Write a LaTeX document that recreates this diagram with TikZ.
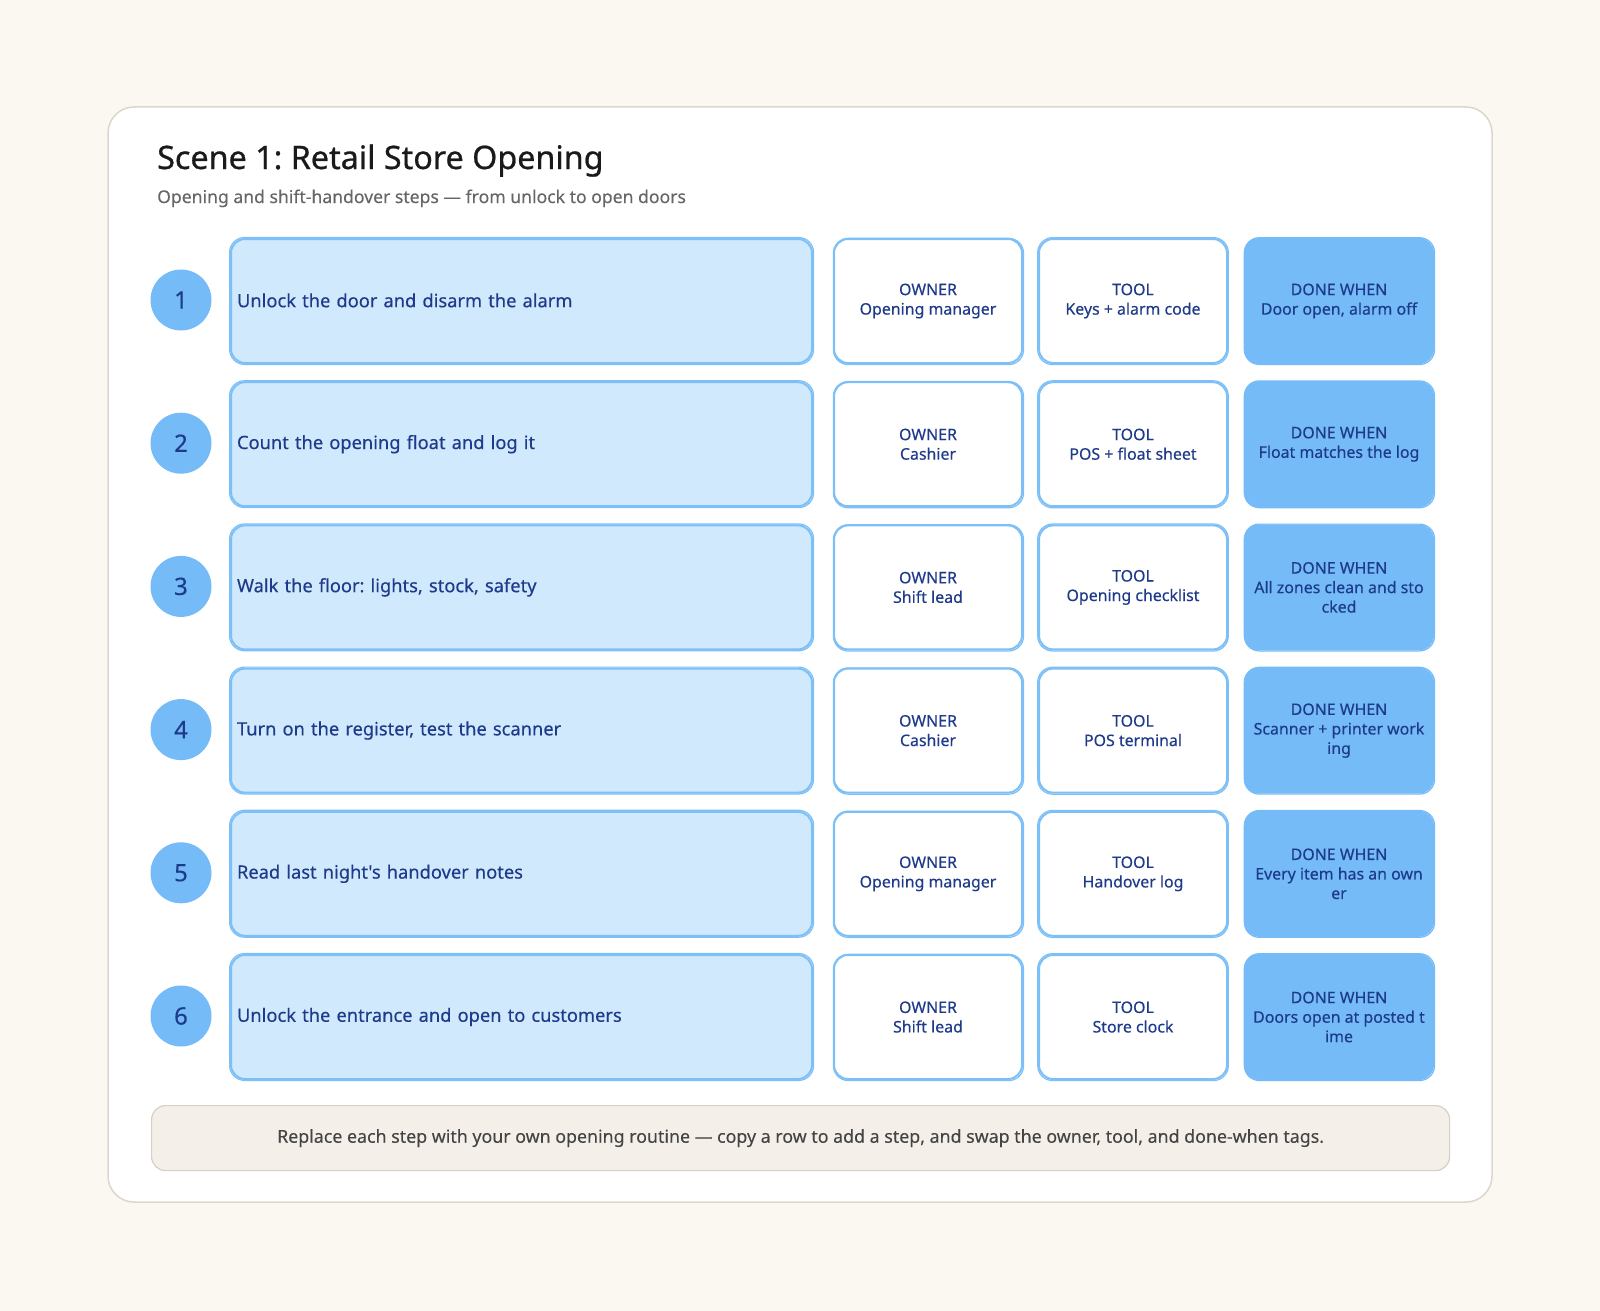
\documentclass[tikz,border=0pt]{standalone}
\usepackage{fontspec}
\setmainfont{Noto Sans}[Ligatures=TeXOff, FakeBold=0.3]
\newfontfamily\titlefont{Noto Sans}[FakeBold=0.7]
\newfontfamily\subfont{Noto Sans}[FakeBold=0.1]
\definecolor{bg}{HTML}{FBF8F2}
\definecolor{cardline}{HTML}{DCD7CD}
\definecolor{navy}{HTML}{1E3A8A}
\definecolor{lightblue}{HTML}{D0E9FD}
\definecolor{midblue}{HTML}{74BBF8}
\definecolor{edgeblue}{HTML}{7DC0F8}
\definecolor{titlec}{HTML}{1A1A1A}
\definecolor{subc}{HTML}{666666}
\definecolor{footfill}{HTML}{F4EFE8}
\definecolor{footline}{HTML}{D6D0C4}
\definecolor{footc}{HTML}{444444}
\tikzset{
  stepbox/.style={draw=edgeblue, fill=lightblue, line width=2pt, rounded corners=14pt,
    text width=569pt, inner xsep=6pt, minimum height=124pt, align=left, anchor=north west,
    text=navy, font=\fontsize{18.3}{21}\selectfont},
  tagbox/.style={draw=edgeblue, fill=white, line width=2pt, rounded corners=14pt,
    minimum width=188pt, minimum height=124pt, align=center, anchor=north west,
    text=navy, font=\fontsize{15.9}{19.5}\selectfont},
  donebox/.style={tagbox, fill=midblue, draw=midblue},
  sketch/.style={draw=edgeblue, line width=1.2pt, rounded corners=15pt},
  numcirc/.style={circle, fill=midblue, minimum size=61pt, inner sep=0pt,
    text=navy, font=\fontsize{24}{24}\selectfont},
}
\begin{document}
\frenchspacing
\begin{tikzpicture}[x=1pt,y=-1pt]
\path[fill=bg] (0,0) rectangle (1600,1311);
\useasboundingbox (0,0) rectangle (1600,1311);
\draw[cardline, line width=1.5pt, fill=white, rounded corners=26pt] (108,107) rectangle (1492,1202);
\node[anchor=base west, text=titlec, font=\titlefont\fontsize{32.3}{36}\selectfont, inner sep=0pt] (title) at (157,169) {Scene 1: Retail Store Opening};
\node[anchor=base west, text=subc, font=\subfont\fontsize{17.6}{20}\selectfont, inner sep=0pt] (sub) at (157,203) {Opening and shift-handover steps — from unlock to open doors};
\foreach \i/\step/\own/\tool/\done in {
  1/{Unlock the door and disarm the alarm}/{Opening manager}/{Keys + alarm code}/{Door open, alarm off},
  2/{Count the opening float and log it}/{Cashier}/{POS + float sheet}/{Float matches the log},
  3/{Walk the floor: lights, stock, safety}/{Shift lead}/{Opening checklist}/{All zones clean and sto\\cked},
  4/{Turn on the register, test the scanner}/{Cashier}/{POS terminal}/{Scanner + printer work\\ing},
  5/{Read last night's handover notes}/{Opening manager}/{Handover log}/{Every item has an own\\er},
  6/{Unlock the entrance and open to customers}/{Shift lead}/{Store clock}/{Doors open at posted t\\ime}}{
  \pgfmathsetmacro{\top}{238+(\i-1)*143.2}
  \node[stepbox] (s\i) at (230,\top) {\raisebox{1.5pt}{\step}};
  \draw[sketch] ([xshift=-0.4pt,yshift=0.5pt]s\i.north west) rectangle ([xshift=0.6pt,yshift=-0.4pt]s\i.south east);
  \node[numcirc] (c\i) at (181,\top+62) {\i};
  \node[tagbox] (o\i) at (833,\top) {OWNER\\\own};
  \draw[sketch] ([xshift=0.4pt,yshift=-0.3pt]o\i.north west) rectangle ([xshift=0.6pt,yshift=-0.6pt]o\i.south east);
  \node[tagbox] (t\i) at (1038,\top) {TOOL\\\tool};
  \draw[sketch] ([xshift=-0.3pt,yshift=0.4pt]t\i.north west) rectangle ([xshift=0.3pt,yshift=-0.6pt]t\i.south east);
  \node[donebox] (d\i) at (1244,\top) {DONE WHEN\\\done};
  \draw[sketch, draw=midblue] ([xshift=0.3pt,yshift=0.3pt]d\i.north west) rectangle ([xshift=0.6pt,yshift=-0.5pt]d\i.south east);
}
\node[draw=footline, fill=footfill, line width=1.2pt, rounded corners=14pt, minimum width=1298pt, minimum height=65pt,
  anchor=north west, text=footc, font=\subfont\fontsize{17.8}{20}\selectfont] (foot) at (151,1105)
  {Replace each step with your own opening routine — copy a row to add a step, and swap the owner, tool, and done-when tags.};
\end{tikzpicture}
\end{document}
